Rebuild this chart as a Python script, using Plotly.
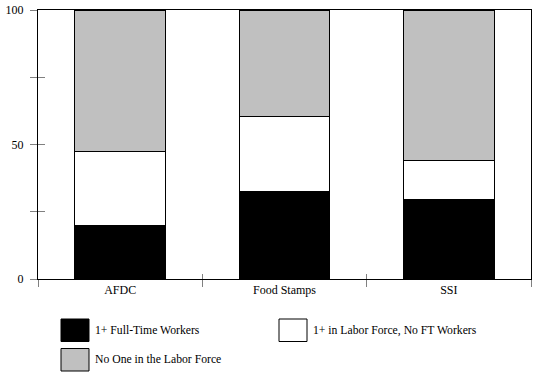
import plotly.graph_objects as go

categories = ["AFDC", "Food Stamps", "SSI"]
series_names = ["1+ Full-Time Workers", "1+ in Labor Force, No FT Workers", "No One in the Labor Force"]
full_time = [20.0, 32.4, 29.7]
labor_force = [27.5, 28.1, 14.4]
no_one = [52.5, 39.5, 55.9]
series_values = [full_time, labor_force, no_one]
series_colors = ["#000000", "#FFFFFF", "#C0C0C0"]
y_tickvals = [0, 25, 50, 75, 100]
y_ticktext = ["0", "", "50", "", "100"]

FONT = dict(family="Liberation Serif, Times New Roman, serif", size=12, color="#000000")
W, H = 538, 380
ML, MR, MT, MB = 38, 7, 10, 101
PW, PH = W - ML - MR, H - MT - MB

fig = go.Figure()
for name, vals, col in zip(series_names, series_values, series_colors):
    fig.add_trace(go.Bar(x=categories, y=vals, name=name, width=0.55,
                         marker=dict(color=col, line=dict(color="#000000", width=1)),
                         showlegend=False))

# helper trace so that overlay axes (inner halves of the crossing ticks) render
fig.add_trace(go.Scatter(x=[0], y=[0], xaxis="x2", yaxis="y2", mode="markers",
                         marker=dict(opacity=0), hoverinfo="skip", showlegend=False))

n = len(categories)
fig.update_layout(
    width=W, height=H,
    margin=dict(l=ML, r=MR, t=MT, b=MB, autoexpand=False),
    paper_bgcolor="white", plot_bgcolor="white",
    font=FONT,
    barmode="stack",
    xaxis=dict(type="category", tickson="boundaries", ticks="outside", ticklen=7,
               tickcolor="#808080", tickwidth=1, showline=True, linecolor="#000000",
               linewidth=1, mirror=True, showgrid=False, zeroline=False,
               range=[-0.5, n - 0.5], tickfont=FONT, automargin=False),
    yaxis=dict(range=[0, 100], tickvals=y_tickvals, ticktext=y_ticktext,
               ticks="outside", ticklen=7, tickcolor="#808080", tickwidth=1,
               showline=True, linecolor="#000000", linewidth=1, mirror=True,
               showgrid=False, zeroline=False, tickfont=FONT, ticklabelstandoff=4,
               automargin=False),
    xaxis2=dict(overlaying="x", anchor="y2", side="bottom", range=[-0.5, n - 0.5],
                tickvals=[i - 0.5 for i in range(n + 1)], ticks="inside", ticklen=5,
                tickcolor="#808080", tickwidth=1, showticklabels=False,
                showline=False, showgrid=False, zeroline=False, automargin=False),
    yaxis2=dict(overlaying="y", anchor="x2", side="left", range=[0, 100],
                tickvals=y_tickvals, ticks="inside", ticklen=7,
                tickcolor="#808080", tickwidth=1, showticklabels=False,
                showline=False, showgrid=False, zeroline=False, automargin=False),
)

# custom legend (larger swatches as in the reference)
legend_slots = [(61, 319), (279, 319), (61, 348.5)]
sw_w, sw_h = 28, 22.5
for name, col, (px, py) in zip(series_names, series_colors, legend_slots):
    x0 = (px - ML) / PW
    x1 = (px + sw_w - ML) / PW
    y0 = (MT + PH - py) / PH
    y1 = (MT + PH - py - sw_h) / PH
    fig.add_shape(type="rect", xref="paper", yref="paper", x0=x0, x1=x1, y0=y1, y1=y0,
                  fillcolor=col, line=dict(color="#000000", width=1))
    fig.add_annotation(xref="paper", yref="paper", x=(px + sw_w + 4 - ML) / PW,
                       y=(MT + PH - py - sw_h / 2) / PH, text=name, showarrow=False,
                       xanchor="left", yanchor="middle",
                       font=dict(FONT, size=11.7))

fig.write_html("out.html", config={"displayModeBar": False},
               post_script="document.body.style.margin='0';document.body.style.overflow='hidden';")
